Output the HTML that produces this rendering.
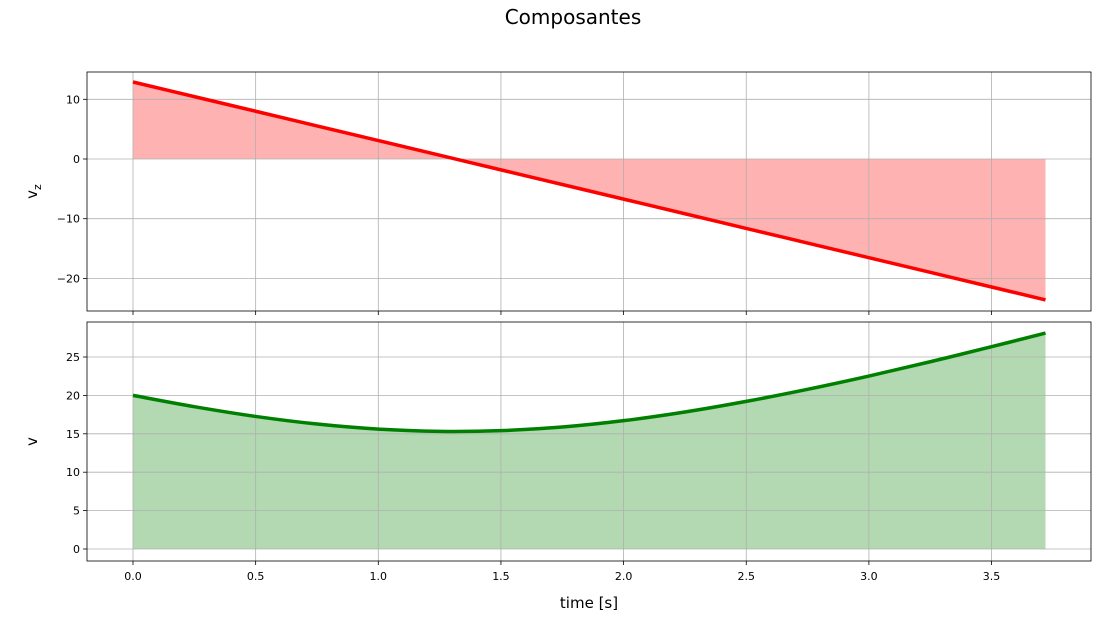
<!DOCTYPE html>
<html><head><meta charset="utf-8"><style>
body{margin:0;background:#fff;width:1119px;height:619px;overflow:hidden;font-family:"Liberation Sans","DejaVu Sans",sans-serif}
</style></head><body>
<svg id="chart" width="1119" height="619" xmlns="http://www.w3.org/2000/svg" font-family="DejaVu Sans, Liberation Sans, sans-serif">
<text x="573" y="24" font-size="20" text-anchor="middle" fill="#000">Composantes</text>
<g id="g"></g>
</svg>
<script>
const times=[0,0.25,0.5,0.75,1.0,1.25,1.5,1.75,2.0,2.25,2.5,2.75,3.0,3.25,3.5,3.72];
const vzValues=[12.9,10.45,8.0,5.54,3.09,0.64,-1.82,-4.27,-6.72,-9.17,-11.63,-14.08,-16.53,-18.98,-21.44,-23.6];
const vValues=[20.0,18.53,17.26,16.27,15.61,15.31,15.41,15.88,16.71,17.84,19.22,20.79,22.52,24.38,26.34,28.12];
const xTicks=[0,0.5,1.0,1.5,2.0,2.5,3.0,3.5];
const topTicks=[10,0,-10,-20];
const botTicks=[25,20,15,10,5,0];
const NS="http://www.w3.org/2000/svg";
const g=document.getElementById('g');
const X=t=>133+t*245.3;
const Ytop=v=>159-v*5.97;
const Ybot=v=>549-v*7.68;
function el(tag,attrs,parent){const e=document.createElementNS(NS,tag);for(const k in attrs)e.setAttribute(k,attrs[k]);(parent||g).appendChild(e);return e;}
function smoothPath(pts){let d='M'+pts[0][0]+','+pts[0][1];
  for(let i=0;i<pts.length-1;i++){const p0=pts[i-1]||pts[i],p1=pts[i],p2=pts[i+1],p3=pts[i+2]||p2;
    d+=` C${p1[0]+(p2[0]-p0[0])/6},${p1[1]+(p2[1]-p0[1])/6} ${p2[0]-(p3[0]-p1[0])/6},${p2[1]-(p3[1]-p1[1])/6} ${p2[0]},${p2[1]}`;}
  return d;}
function panel(y0,y1,Y,ticks,vals,color,fill,label,name,showX){
  const grp=el('g',{});
  
  
  const pts=times.map((t,i)=>[X(t),Y(vals[i])]);
  const sp=smoothPath(pts);
  const area=el('path',{d:`M${X(times[0])},${Y(0)} L`+sp.slice(1)+` L${X(times[times.length-1])},${Y(0)} Z`,fill:fill},grp);
  
  xTicks.forEach(t=>{const l=el('line',{x1:X(t),x2:X(t),y1:y0,y2:y1,stroke:'#b0b0b0','stroke-width':0.8},grp);
    
    el('line',{x1:X(t),x2:X(t),y1:y1,y2:y1+4,stroke:'#000','stroke-width':0.8},grp);
    if(showX){const tx=el('text',{x:X(t),y:y1+19,'font-size':11,'text-anchor':'middle'},grp);tx.textContent=t.toFixed(1);
      }});
  ticks.forEach(v=>{const l=el('line',{x1:87,x2:1091,y1:Y(v),y2:Y(v),stroke:'#b0b0b0','stroke-width':0.8},grp);
    
    el('line',{x1:83,x2:87,y1:Y(v),y2:Y(v),stroke:'#000','stroke-width':0.8},grp);
    const tx=el('text',{x:80,y:Y(v)+4,'font-size':11,'text-anchor':'end'},grp);tx.textContent=(v<0?'\u2212'+(-v):v);
    });
  const line=el('path',{d:sp,fill:'none',stroke:color,'stroke-width':3.5,'stroke-linejoin':'round'},grp);
  
  const fr=el('rect',{x:87,y:y0,width:1004,height:y1-y0,fill:'none',stroke:'#000','stroke-width':0.8},grp);
  
  const yl=el('text',{x:0,y:0,'font-size':15,'text-anchor':'middle',transform:`translate(37,${(y0+y1)/2}) rotate(-90)`},grp);
  
  yl.innerHTML=label;
}
panel(72,311,Ytop,topTicks,vzValues,'#ff0000','rgba(255,0,0,0.3)','v<tspan font-size="11" dy="4">z</tspan>','vz',false);
panel(322,561,Ybot,botTicks,vValues,'#008000','rgba(0,128,0,0.3)','v','v',true);
const xl=el('text',{x:589,y:608,'font-size':15,'text-anchor':'middle'});xl.textContent='time [s]';


</script>
</body></html>
